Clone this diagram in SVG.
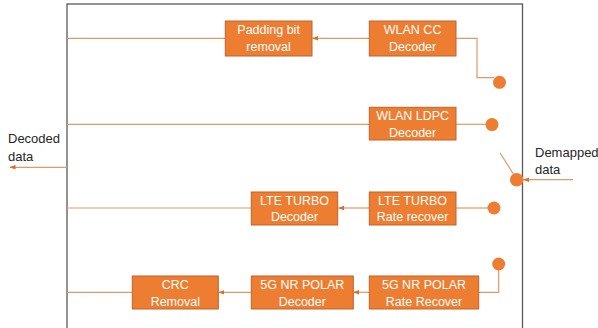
<svg xmlns="http://www.w3.org/2000/svg" width="598" height="328" viewBox="0 0 598 328">
<style>
.box{fill:#ED7D31;stroke:#C0622A;stroke-width:1}
.bt{font-family:"Liberation Sans",Arial,sans-serif;font-size:12.5px;fill:#FFFFFF;text-anchor:middle}
.lbl{font-family:"Liberation Sans",Arial,sans-serif;font-size:13px;fill:#262626}
.ln{fill:none;stroke:#E0996A;stroke-width:1.2}
.dot{fill:#ED7D31}
</style>
<defs>
<marker id="ah" markerUnits="userSpaceOnUse" markerWidth="6" markerHeight="6" viewBox="0 0 6 6" refX="5.5" refY="3" orient="auto">
<path d="M0,0.8 L6,3 L0,5.2 Z" fill="#D9702E"/>
</marker>
</defs>
<rect id="frame" x="67" y="4" width="455.5" height="400" fill="none" stroke="#595959" stroke-width="1.3"/>
<g id="connectors">
<line class="ln" x1="225" y1="38.3" x2="67" y2="38.3"/>
<line class="ln" x1="369" y1="38.3" x2="312.5" y2="38.3" marker-end="url(#ah)"/>
<polyline class="ln" points="456,38.3 477,38.3 477,77.7 494,77.7"/>
<line class="ln" x1="67" y1="124.3" x2="369" y2="124.3"/>
<line class="ln" x1="456" y1="124.3" x2="486" y2="124.3"/>
<line class="ln" x1="67" y1="208" x2="251" y2="208"/>
<line class="ln" x1="369" y1="208" x2="338.5" y2="208" marker-end="url(#ah)"/>
<line class="ln" x1="456" y1="208" x2="488" y2="208"/>
<line class="ln" x1="67" y1="292.3" x2="132" y2="292.3"/>
<line class="ln" x1="251" y1="292.3" x2="218.8" y2="292.3" marker-end="url(#ah)"/>
<line class="ln" x1="369" y1="292.3" x2="353.5" y2="292.3" marker-end="url(#ah)"/>
<polyline class="ln" points="479,292.3 498.7,292.3 498.7,270"/>
<line class="ln" x1="500" y1="152.7" x2="514" y2="175"/>
<line class="ln" x1="573" y1="179.7" x2="523.5" y2="179.7" marker-end="url(#ah)"/>
<line class="ln" x1="67" y1="167.3" x2="10" y2="167.3" marker-end="url(#ah)"/>
</g>
<g id="sw-cc"><circle class="dot" cx="499.5" cy="82.3" r="6.5"/></g>
<g id="sw-ldpc"><circle class="dot" cx="492" cy="124.6" r="6.5"/></g>
<g id="sw-turbo"><circle class="dot" cx="494" cy="208" r="6.5"/></g>
<g id="sw-polar"><circle class="dot" cx="498.7" cy="264" r="6.5"/></g>
<g id="sw-in"><circle class="dot" cx="516.7" cy="179.7" r="6.8"/></g>
<g id="padding"><rect class="box" x="225.3" y="21" width="86.7" height="35"/><text class="bt" x="268.6" y="34">Padding bit</text><text class="bt" x="268.6" y="51">removal</text></g>
<g id="wlan-cc"><rect class="box" x="369.3" y="21" width="86.7" height="35"/><text class="bt" x="412.6" y="34">WLAN CC</text><text class="bt" x="412.6" y="51">Decoder</text></g>
<g id="wlan-ldpc"><rect class="box" x="369.3" y="107.3" width="86.7" height="32.7"/><text class="bt" x="412.6" y="120">WLAN LDPC</text><text class="bt" x="412.6" y="136.7">Decoder</text></g>
<g id="lte-dec"><rect class="box" x="251.3" y="192" width="86.4" height="33"/><text class="bt" x="294.5" y="205">LTE TURBO</text><text class="bt" x="294.5" y="221.3">Decoder</text></g>
<g id="lte-rr"><rect class="box" x="369.3" y="192" width="86.7" height="33"/><text class="bt" x="412.6" y="205">LTE TURBO</text><text class="bt" x="412.6" y="221.3">Rate recover</text></g>
<g id="polar-rr"><rect class="box" x="369.3" y="276" width="109.4" height="33"/><text class="bt" x="424" y="289">5G NR POLAR</text><text class="bt" x="424" y="305.7">Rate Recover</text></g>
<g id="polar-dec"><rect class="box" x="251.3" y="276" width="102" height="33"/><text class="bt" x="302.3" y="289">5G NR POLAR</text><text class="bt" x="302.3" y="305.7">Decoder</text></g>
<g id="crc"><rect class="box" x="132.3" y="276" width="86" height="33"/><text class="bt" x="175.3" y="289">CRC</text><text class="bt" x="175.3" y="305.7">Removal</text></g>
<g id="decoded-label"><text class="lbl" x="8" y="143">Decoded</text><text class="lbl" x="8" y="161">data</text></g>
<g id="demapped-label"><text class="lbl" x="535" y="157">Demapped</text><text class="lbl" x="535" y="173.5">data</text></g>
</svg>
